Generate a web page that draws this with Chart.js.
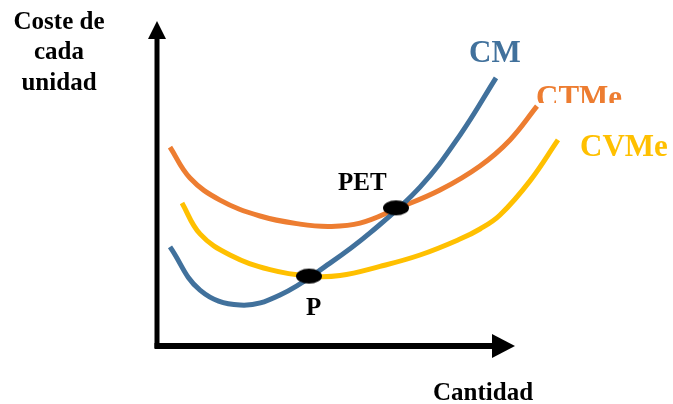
<!DOCTYPE html>
<html>
<head>
<meta charset="utf-8">
<script src="https://cdn.jsdelivr.net/npm/chart.js@4"></script>
<style>
  body { margin: 0; background: #fff; }
  #wrap { width: 673px; height: 404px; }
</style>
</head>
<body>
<div id="wrap"><canvas id="grafico"></canvas></div>
<script>
// curvas de coste (x = cantidad, y = coste por unidad)
const cmX   = [0.26, 0.86, 1.66, 2.46, 3.46, 4.26, 5.26, 6.06, 6.78];
const cmY   = [3.05, 1.72, 1.26, 1.57, 2.55, 3.48, 4.89, 6.49, 8.25];
const ctmeX = [0.26, 0.66, 1.26, 2.06, 2.86, 3.46, 4.06, 4.8, 5.66, 6.46, 7.06, 7.6];
const ctmeY = [6.12, 5.17, 4.49, 4.0, 3.75, 3.68, 3.78, 4.23, 4.8, 5.54, 6.34, 7.38];
const cvmeX = [0.5, 0.86, 1.46, 2.26, 3.06, 3.66, 4.46, 5.26, 6.06, 6.46, 6.86, 7.46, 8.02];
const cvmeY = [4.4, 3.45, 2.8, 2.35, 2.15, 2.17, 2.45, 2.8, 3.29, 3.6, 4.03, 5.08, 6.34];
// puntos destacados
const puntosX = [4.78, 3.04];
const puntosY = [4.25, 2.15];
const puntosNombre = ['PET', 'P'];

const xy = (xs, ys) => xs.map((x, i) => ({ x: x, y: ys[i] }));

// óvalo negro para los puntos
const ovalo = document.createElement('canvas');
ovalo.width = 28; ovalo.height = 17;
const oc = ovalo.getContext('2d');
oc.fillStyle = '#000';
oc.beginPath();
oc.ellipse(14, 8.5, 13, 7.5, 0, 0, Math.PI * 2);
oc.fill();

const FUENTE = '"Liberation Serif", "Times New Roman", serif';

const dibujo = {
  id: 'dibujo',
  afterDatasetsDraw(chart) {
    const ctx = chart.ctx;
    const sx = chart.scales.x, sy = chart.scales.y;
    const x0 = sx.getPixelForValue(0), y0 = sy.getPixelForValue(0);
    ctx.save();
    ctx.strokeStyle = '#000';
    ctx.fillStyle = '#000';
    ctx.lineWidth = 5;
    ctx.lineCap = 'butt';
    // eje vertical
    const yTop = sy.getPixelForValue(10);
    ctx.beginPath();
    ctx.moveTo(x0, y0 + 2);
    ctx.lineTo(x0, yTop + 16);
    ctx.stroke();
    ctx.beginPath();
    ctx.moveTo(x0, yTop);
    ctx.lineTo(x0 - 9, yTop + 18);
    ctx.lineTo(x0 + 9, yTop + 18);
    ctx.closePath();
    ctx.fill();
    // eje horizontal
    const xEnd = sx.getPixelForValue(7.16);
    ctx.lineWidth = 6;
    ctx.beginPath();
    ctx.moveTo(x0 - 2.5, y0);
    ctx.lineTo(xEnd - 20, y0);
    ctx.stroke();
    ctx.beginPath();
    ctx.moveTo(xEnd, y0);
    ctx.lineTo(xEnd - 23, y0 - 12);
    ctx.lineTo(xEnd - 23, y0 + 12);
    ctx.closePath();
    ctx.fill();

    // textos
    ctx.textBaseline = 'alphabetic';
    ctx.textAlign = 'center';
    ctx.font = 'bold 25px ' + FUENTE;
    ctx.fillText('Coste de', 59, 29);
    ctx.fillText('cada', 59, 59);
    ctx.fillText('unidad', 59, 90);
    ctx.textAlign = 'left';
    ctx.fillText('Cantidad', 433, 400);
    ctx.fillText(puntosNombre[0], 338, 190);
    ctx.fillText(puntosNombre[1], 306, 315);

    ctx.font = 'bold 31px ' + FUENTE;
    ctx.fillStyle = '#41719c';
    ctx.fillText('CM', 469, 62);
    ctx.fillStyle = '#ffc000';
    ctx.fillText('CVMe', 580, 156);
    // CTMe aparece cortado por abajo
    ctx.save();
    ctx.beginPath();
    ctx.rect(520, 70, 153, 33);
    ctx.clip();
    ctx.fillStyle = '#ed7d31';
    ctx.fillText('CTMe', 536, 107);
    ctx.restore();
    ctx.restore();
  }
};

const curva = (label, xs, ys, color, order) => ({
  label: label,
  data: xy(xs, ys),
  showLine: true,
  borderColor: color,
  borderWidth: 5,
  pointRadius: 0,
  tension: 0.4,
  order: order
});

new Chart(document.getElementById('grafico'), {
  type: 'scatter',
  data: {
    datasets: [
      curva('CTMe', ctmeX, ctmeY, '#ed7d31', 3),
      curva('CVMe', cvmeX, cvmeY, '#ffc000', 2),
      curva('CM', cmX, cmY, '#41719c', 1),
      {
        label: 'Puntos',
        data: xy(puntosX, puntosY),
        showLine: false,
        pointStyle: ovalo,
        order: 0
      }
    ]
  },
  options: {
    responsive: true,
    maintainAspectRatio: false,
    animation: false,
    layout: { padding: { left: 157, right: 16, top: 21, bottom: 58 } },
    plugins: { legend: { display: false }, tooltip: { enabled: false } },
    scales: {
      x: { type: 'linear', min: 0, max: 10, display: false },
      y: { type: 'linear', min: 0, max: 10, display: false }
    },
    clip: false
  },
  plugins: [dibujo]
});
</script>
</body>
</html>
